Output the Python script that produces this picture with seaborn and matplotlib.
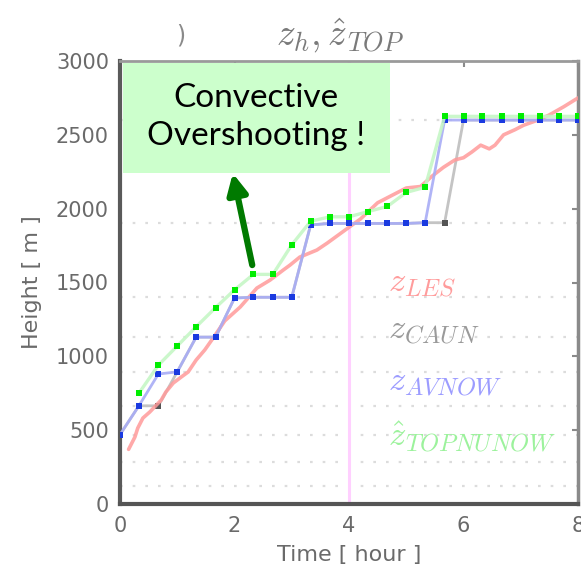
import matplotlib
matplotlib.use("Agg")
import matplotlib.pyplot as plt
import seaborn as sns
from matplotlib.patches import Rectangle

# Output times [hour]
t_out = [0.00, 0.33, 0.67, 1.00, 1.33, 1.67, 2.00, 2.33, 2.67, 3.00, 3.33, 3.67,
         4.00, 4.33, 4.67, 5.00, 5.33, 5.67, 6.00, 6.33, 6.67, 7.00, 7.33, 7.67, 8.00]

# LES boundary-layer height
t_les = [0.15, 0.26, 0.31, 0.40, 0.52, 0.72, 0.80, 0.93, 1.07, 1.19, 1.33, 1.48,
         1.62, 1.83, 2.10, 2.39, 2.62, 2.85, 2.97, 3.14, 3.44, 3.62, 3.95, 4.20,
         4.50, 4.80, 5.00, 5.25, 5.45, 5.65, 5.85, 6.00, 6.15, 6.30, 6.45, 6.55,
         6.70, 6.90, 7.05, 7.30, 7.50, 7.75, 8.00]
z_les = [370, 453, 514, 582, 623, 704, 758, 819, 860, 894, 975, 1043,
         1120, 1240, 1334, 1462, 1516, 1584, 1618, 1672, 1720, 1767, 1860, 1930,
         2040, 2100, 2140, 2150, 2220, 2280, 2330, 2345, 2385, 2430, 2405, 2430,
         2500, 2535, 2565, 2600, 2635, 2690, 2750]

z_cain = [470, 665, 665, 895, 1130, 1130, 1395, 1400, 1400, 1400, 1890, 1900,
          1900, 1900, 1900, 1900, 1905, 1905, 2600, 2600, 2600, 2600, 2600, 2600, 2600]
z_avnow = [470, 665, 880, 895, 1130, 1130, 1395, 1400, 1400, 1400, 1890, 1900,
           1900, 1900, 1900, 1900, 1905, 2600, 2600, 2600, 2600, 2600, 2600, 2600, 2600]
t_top = t_out[1:]
z_top = [750, 940, 1070, 1200, 1330, 1450, 1555, 1555, 1755, 1915, 1945,
         1945, 1980, 2015, 2110, 2145, 2625, 2625, 2625, 2625, 2625, 2625, 2625, 2625]

# Model level heights [m]
levels = [122, 284, 470, 665, 895, 1130, 1400, 1905, 2600]

x_ticks = [0, 2, 4, 6, 8]
y_ticks = [0, 500, 1000, 1500, 2000, 2500, 3000]

labels = [r"$z_{LES}$", r"$z_{CAUN}$", r"$z_{AVNOW}$", r"$\hat{z}_{TOPNUNOW}$"]
label_colors = ["#ff9c9c", "#9a9a9a", "#9c9cff", "#9cf29c"]

sns.set_theme(style="white")
plt.rcParams["font.family"] = ["DejaVu Sans"]
plt.rcParams["mathtext.fontset"] = "cm"

fig = plt.figure(figsize=(5.81, 5.80), dpi=100)
ax = fig.add_axes([120 / 581, 76 / 580, 458 / 581, 443 / 580])

for lv in levels:
    ax.axhline(lv, color="#dcdcdc", lw=1.6, ls=(0, (1.2, 4.5)), zorder=1)
ax.axvline(4, color="#ffd0ff", lw=2.2, zorder=1.5)

sns.lineplot(x=t_les, y=z_les, color="#ff9a9a", lw=2.6, alpha=0.85,
             estimator=None, sort=False, ax=ax, zorder=3)
sns.lineplot(x=t_out, y=z_cain, color="#c4c4c4", lw=2.0,
             estimator=None, sort=False, ax=ax, zorder=2.5)
sns.scatterplot(x=t_out, y=z_cain, color="#555555", marker="s", s=14,
                linewidth=0, ax=ax, zorder=2.6)
sns.lineplot(x=t_out, y=z_avnow, color="#a8acf6", lw=2.0, alpha=0.9,
             estimator=None, sort=False, ax=ax, zorder=4)
sns.scatterplot(x=t_out, y=z_avnow, color="#1a3ae0", marker="s", s=18,
                linewidth=0, ax=ax, zorder=4.5)
sns.lineplot(x=t_top, y=z_top, color="#c6f7c6", lw=2.4, alpha=0.9,
             estimator=None, sort=False, ax=ax, zorder=5)
sns.scatterplot(x=t_top, y=z_top, color="#00ee00", marker="s", s=16,
                linewidth=0, ax=ax, zorder=5.5)

ax.set_xlim(0, 8)
ax.set_ylim(0, 3000)
ax.set_xticks(x_ticks)
ax.set_yticks(y_ticks)
ax.tick_params(direction="in", length=4, width=1.5, color="#8a8a8a",
               labelcolor="#6a6a6a", labelsize=15, top=True, right=True)
ax.tick_params(axis="y", pad=8)
ax.tick_params(axis="x", pad=9)
ax.set_xlabel("Time [ hour ]", fontsize=16, color="#6a6a6a", labelpad=6)
ax.set_ylabel("Height [ m ]", fontsize=16, color="#6a6a6a", labelpad=10)

ax.spines["left"].set_color("#5a5a5a")
ax.spines["left"].set_linewidth(3)
ax.spines["bottom"].set_color("#555555")
ax.spines["bottom"].set_linewidth(3)
ax.spines["top"].set_color("#9a9a9a")
ax.spines["top"].set_linewidth(2)
ax.spines["right"].set_color("#8a8a8a")
ax.spines["right"].set_linewidth(2.5)

label_y = [0.50, 0.393, 0.275, 0.151]
for txt, col, yy in zip(labels, label_colors, label_y):
    ax.text(0.585, yy, txt, transform=ax.transAxes, color=col, fontsize=25,
            va="center", ha="left", zorder=6)

fig.text(340 / 581, 1 - 36 / 580, r"$z_{h}, \hat{z}_{TOP}$", fontsize=27,
         color="#7a7a7a", ha="center", va="center")
fig.text(181 / 581, 1 - 35 / 580, ")", fontsize=17, color="#8a8a8a",
         ha="center", va="center")

# Callout box with arrow
box = Rectangle((123 / 581, 1 - 173 / 580), 267 / 581, 110 / 580,
                transform=fig.transFigure, facecolor="#ccffcc",
                edgecolor="none", zorder=10)
fig.patches.append(box)
fig.text(256 / 581, 1 - 117 / 580, "Convective\nOvershooting !",
         family=["Lato", "DejaVu Sans"], fontsize=24, color="black",
         ha="center", va="center", linespacing=1.32, zorder=11)
ax.annotate("", xy=(1.97, 2240), xytext=(2.31, 1618),
            arrowprops=dict(arrowstyle="-|>", lw=4.5, color="#007a00",
                            mutation_scale=30, shrinkA=0, shrinkB=0),
            zorder=12, annotation_clip=False)

fig.savefig("out.png", dpi=100)
